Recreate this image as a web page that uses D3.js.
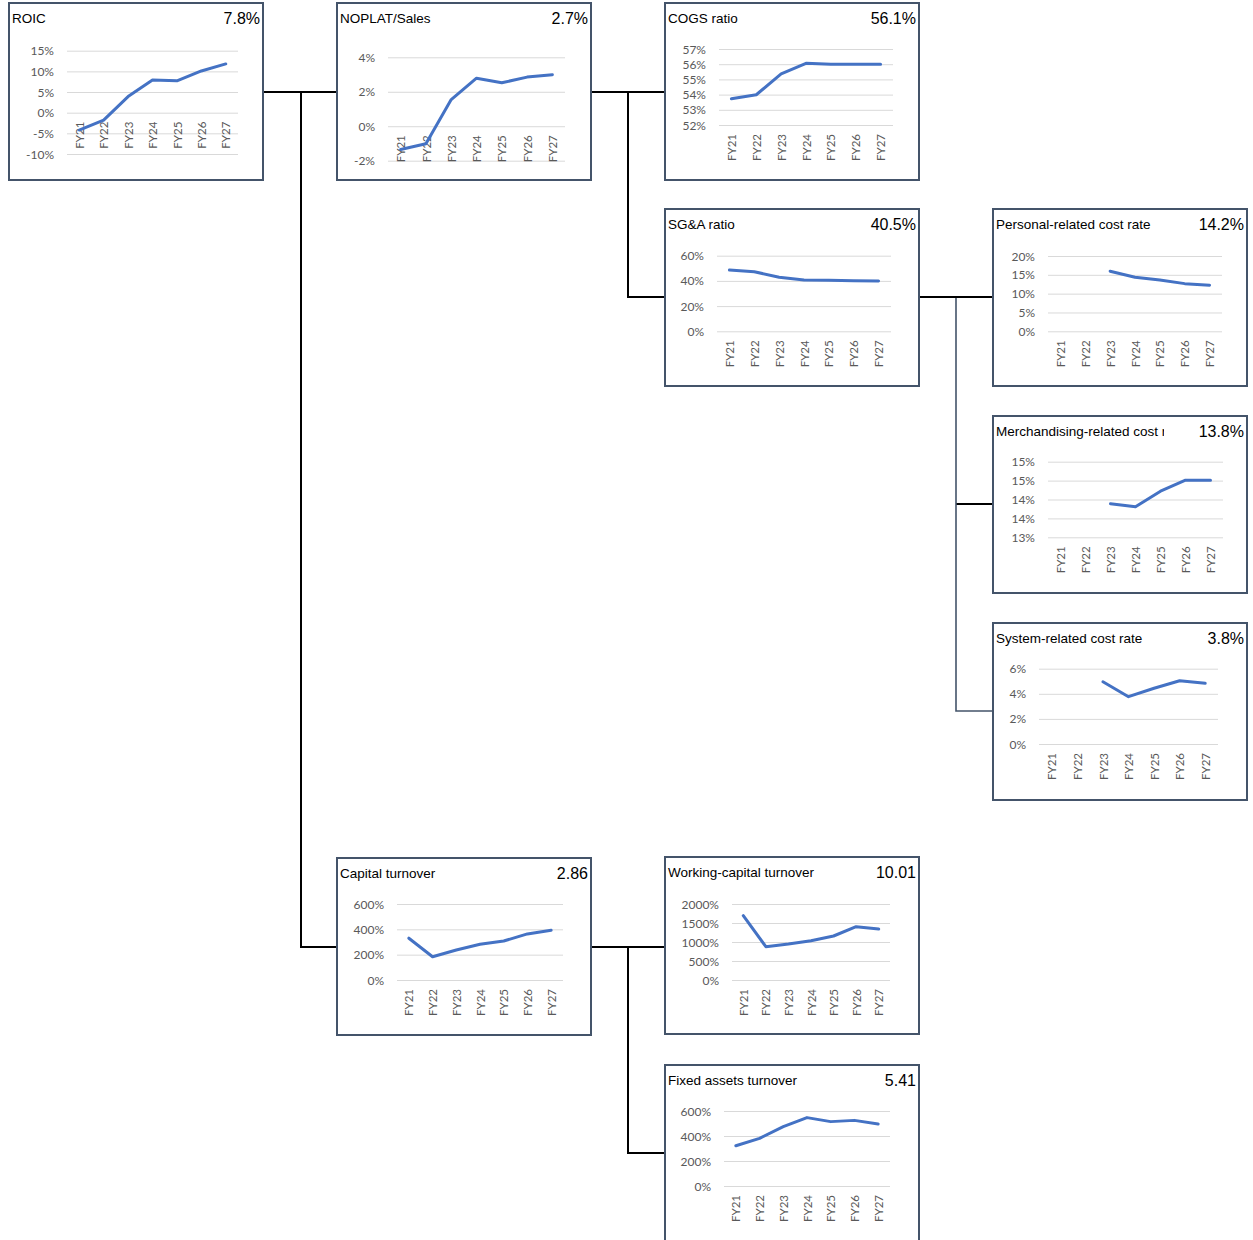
<!DOCTYPE html>
<html>
<head>
<meta charset="utf-8">
<script src="https://cdn.jsdelivr.net/npm/d3@7"></script>
<style>
  html, body { margin: 0; padding: 0; background: #ffffff; }
  svg { display: block; }
</style>
</head>
<body>
<svg id="chart" width="1253" height="1240"></svg>
<script>
// ---------------- DATA ----------------
const categories = ["FY21", "FY22", "FY23", "FY24", "FY25", "FY26", "FY27"];

const roicValues = [-4.2, -1.8, 3.9, 7.9, 7.7, 10.1, 11.8];
const roicTicks = [-10, -5, 0, 5, 10, 15];
const roicTickLabels = ["-10%", "-5%", "0%", "5%", "10%", "15%"];

const noplatValues = [-1.35, -1.02, 1.55, 2.79, 2.52, 2.85, 2.99];
const noplatTicks = [-2, 0, 2, 4];
const noplatTickLabels = ["-2%", "0%", "2%", "4%"];

const cogsValues = [53.73, 53.99, 55.36, 56.06, 55.99, 55.99, 55.99];
const cogsTicks = [52, 53, 54, 55, 56, 57];
const cogsTickLabels = ["52%", "53%", "54%", "55%", "56%", "57%"];

const sgaValues = [48.6, 47.3, 42.9, 40.7, 40.6, 40.2, 40.0];
const sgaTicks = [0, 20, 40, 60];
const sgaTickLabels = ["0%", "20%", "40%", "60%"];

const personalValues = [null, null, 15.96, 14.36, 13.64, 12.66, 12.23];
const personalTicks = [0, 5, 10, 15, 20];
const personalTickLabels = ["0%", "5%", "10%", "15%", "20%"];

const merchValues = [null, null, 13.89, 13.81, 14.22, 14.51, 14.51];
const merchTicks = [13, 13.5, 14, 14.5, 15];
const merchTickLabels = ["13%", "14%", "14%", "15%", "15%"];

const systemValues = [null, null, 4.96, 3.77, 4.44, 5.04, 4.84];
const systemTicks = [0, 2, 4, 6];
const systemTickLabels = ["0%", "2%", "4%", "6%"];

const capitalValues = [330, 184, 237, 282, 308, 364, 393];
const capitalTicks = [0, 200, 400, 600];
const capitalTickLabels = ["0%", "200%", "400%", "600%"];

const workingValues = [1692, 876, 947, 1035, 1158, 1403, 1342];
const workingTicks = [0, 500, 1000, 1500, 2000];
const workingTickLabels = ["0%", "500%", "1000%", "1500%", "2000%"];

const fixedValues = [322, 381, 475, 547, 515, 525, 496];
const fixedTicks = [0, 200, 400, 600];
const fixedTickLabels = ["0%", "200%", "400%", "600%"];

const panelTitles = ["ROIC", "NOPLAT/Sales", "COGS ratio", "SG&A ratio", "Personal-related cost rate",
  "Merchandising-related cost rate", "System-related cost rate", "Capital turnover",
  "Working-capital turnover", "Fixed assets turnover"];
const panelHeadlines = ["7.8%", "2.7%", "56.1%", "40.5%", "14.2%", "13.8%", "3.8%", "2.86", "10.01", "5.41"];

// ---------------- LAYOUT ----------------
const BOX_W = 254, BOX_H = 177;
const layout = [
  { box: [9, 3],     plot: [58, 229, 47.7, 151],   values: roicValues,     ticks: roicTicks,     labels: roicTickLabels },
  { box: [337, 3],   plot: [51, 228, 54.3, 157.7], values: noplatValues,   ticks: noplatTicks,   labels: noplatTickLabels },
  { box: [665, 3],   plot: [54, 228, 46, 122],     values: cogsValues,     ticks: cogsTicks,     labels: cogsTickLabels },
  { box: [665, 209], plot: [52, 226, 46.7, 122.3], values: sgaValues,      ticks: sgaTicks,      labels: sgaTickLabels },
  { box: [993, 209], plot: [55, 229, 47, 122.3],   values: personalValues, ticks: personalTicks, labels: personalTickLabels },
  { box: [993, 416], plot: [55, 230, 45.7, 121.3], values: merchValues,    ticks: merchTicks,    labels: merchTickLabels },
  { box: [993, 623], plot: [46, 225, 45.7, 121],   values: systemValues,   ticks: systemTicks,   labels: systemTickLabels },
  { box: [337, 858], plot: [60, 226, 46, 122],     values: capitalValues,  ticks: capitalTicks,  labels: capitalTickLabels },
  { box: [665, 857], plot: [67, 225, 47, 123],     values: workingValues,  ticks: workingTicks,  labels: workingTickLabels },
  { box: [665, 1065],plot: [59, 225, 46, 121],     values: fixedValues,    ticks: fixedTicks,    labels: fixedTickLabels }
];

const svg = d3.select("#chart");
const defs = svg.append("defs");

// ---------------- CONNECTORS ----------------
const black = "#000000", slate = "#44546a";
const connectors = [
  { d: "M263,92 H337", c: black, w: 2 },
  { d: "M301,92 V947 H337", c: black, w: 2 },
  { d: "M591,92 H665", c: black, w: 2 },
  { d: "M628,92 V297 H665", c: black, w: 2 },
  { d: "M919,297 H993", c: black, w: 2 },
  { d: "M956,504 H993", c: black, w: 2 },
  { d: "M956,298 V711 H993", c: slate, w: 1.6 },
  { d: "M591,947 H665", c: black, w: 2 },
  { d: "M628,947 V1153 H665", c: black, w: 2 }
];
svg.append("g").selectAll("path").data(connectors).join("path")
  .attr("d", d => d.d).attr("fill", "none")
  .attr("stroke", d => d.c).attr("stroke-width", d => d.w);

// ---------------- PANELS ----------------
const tickFont = "Lato, 'Open Sans', sans-serif";
layout.forEach((p, i) => {
  const [bx, by] = p.box;
  const [pl, pr, pt, pb] = p.plot;
  const g = svg.append("g").attr("transform", `translate(${bx},${by})`);

  g.append("rect").attr("x", 0).attr("y", 0).attr("width", BOX_W).attr("height", BOX_H)
    .attr("fill", "#ffffff").attr("stroke", slate).attr("stroke-width", 2);

  const yMin = d3.min(p.ticks), yMax = d3.max(p.ticks);
  const y = d3.scaleLinear().domain([yMin, yMax]).range([pb, pt]);
  const x = d3.scalePoint().domain(categories).range([pl, pr]).padding(0.5);

  // value axis + gridlines
  const yAxis = d3.axisLeft(y).tickValues(p.ticks)
    .tickFormat(d => p.labels[p.ticks.indexOf(d)])
    .tickSize(-(pr - pl)).tickPadding(13);
  const ya = g.append("g").attr("transform", `translate(${pl},0)`).call(yAxis);
  ya.select(".domain").remove();
  ya.selectAll("line").attr("stroke", "#d9d9d9").attr("stroke-width", 1);
  ya.selectAll("text").attr("fill", "#595959").attr("font-family", tickFont)
    .attr("font-size", 12).attr("dy", "0.34em");

  // category axis at crossing
  const cross = Math.max(yMin, Math.min(0, yMax));
  const xAxis = d3.axisBottom(x).tickSize(0);
  const xa = g.append("g").attr("transform", `translate(0,${y(cross)})`).call(xAxis);
  xa.select(".domain").remove();
  xa.selectAll("text").attr("fill", "#595959").attr("font-family", tickFont)
    .attr("font-size", 11.5)
    .attr("transform", "rotate(-90)").attr("x", -9).attr("y", 0).attr("dy", "0.36em")
    .attr("text-anchor", "end");

  // line
  const line = d3.line().defined(d => d.v != null).x(d => x(d.c)).y(d => y(d.v));
  g.append("path").datum(categories.map((c, k) => ({ c, v: p.values[k] })))
    .attr("d", line).attr("fill", "none").attr("stroke", "#4472c4")
    .attr("stroke-width", 3).attr("stroke-linejoin", "round").attr("stroke-linecap", "round");

  // title (clipped) and headline
  const clipId = "clip" + i;
  defs.append("clipPath").attr("id", clipId).append("rect")
    .attr("x", 0).attr("y", 0).attr("width", 171).attr("height", 30);
  g.append("text").attr("clip-path", `url(#${clipId})`)
    .attr("x", 3).attr("y", 20).attr("font-family", "'Liberation Sans', Arial, sans-serif")
    .attr("font-size", 13.5).attr("fill", "#000").text(panelTitles[i]);
  g.append("text").attr("x", BOX_W - 3).attr("y", 21).attr("text-anchor", "end")
    .attr("font-family", "'Liberation Sans', Arial, sans-serif")
    .attr("font-size", 16).attr("fill", "#000").text(panelHeadlines[i]);
});
</script>
</body>
</html>
